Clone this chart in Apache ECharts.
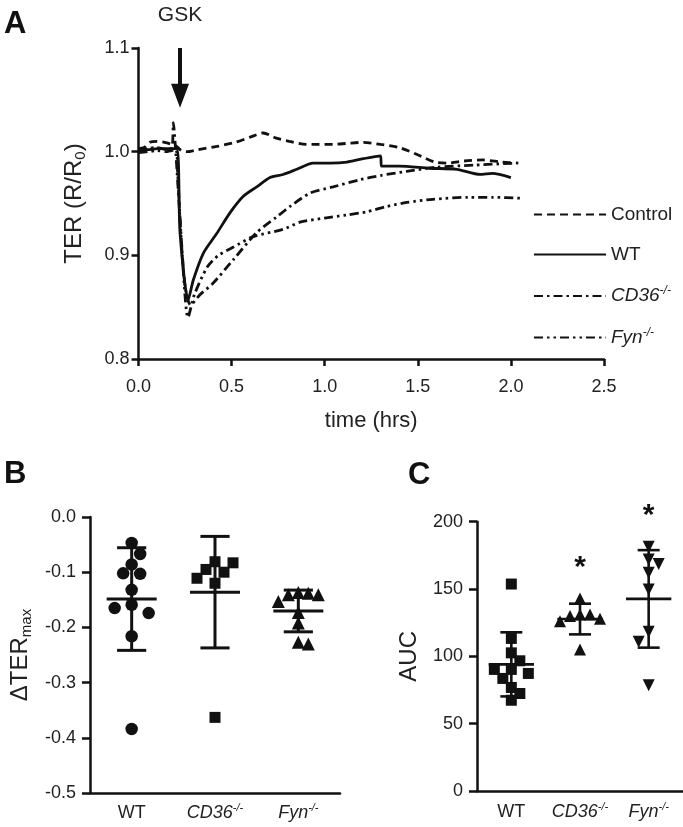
<!DOCTYPE html>
<html><head><meta charset="utf-8">
<script src="https://cdn.jsdelivr.net/npm/echarts/dist/echarts.min.js"></script>
<style>html,body{margin:0;padding:0;background:#fff}#c{width:683px;height:827px}</style>
</head><body><div id="c"></div>
<script>
// ---------- Panel A: TER time courses, [time (hrs), R/R0] ----------
const controlCurve = [[0.00,1.003],[0.03,1.004],[0.06,1.009],[0.10,1.010],[0.14,1.009],[0.18,1.007],[0.205,1.005],[0.23,1.001],[0.26,1.000],[0.32,1.002],[0.42,1.005],[0.52,1.009],[0.60,1.014],[0.67,1.018],[0.74,1.013],[0.81,1.010],[0.90,1.007],[0.97,1.007],[1.045,1.007],[1.12,1.008],[1.205,1.009],[1.30,1.007],[1.40,1.004],[1.50,0.997],[1.59,0.990],[1.66,0.989],[1.75,0.991],[1.85,0.992],[1.95,0.990],[2.04,0.989]];
const wtCurve = [[0.00,1.002],[0.05,1.002],[0.10,1.003],[0.15,1.003],[0.205,1.003],[0.223,0.922],[0.267,0.857],[0.294,0.876],[0.348,0.902],[0.42,0.921],[0.491,0.941],[0.563,0.957],[0.635,0.966],[0.706,0.975],[0.776,0.978],[0.85,0.983],[0.937,0.989],[1.03,0.989],[1.12,0.990],[1.20,0.993],[1.30,0.996],[1.305,0.986],[1.40,0.986],[1.565,0.984],[1.71,0.983],[1.834,0.978],[1.90,0.979],[2.00,0.975]];
const cd36Curve = [[0.00,1.000],[0.05,1.003],[0.10,1.004],[0.15,1.002],[0.18,1.004],[0.187,1.028],[0.20,1.000],[0.225,0.930],[0.25,0.870],[0.28,0.852],[0.33,0.862],[0.40,0.873],[0.51,0.896],[0.635,0.922],[0.742,0.937],[0.82,0.948],[0.921,0.960],[1.045,0.966],[1.19,0.973],[1.30,0.977],[1.44,0.981],[1.60,0.985],[1.80,0.987],[2.03,0.989]];
const fynCurve = [[0.00,0.999],[0.05,1.000],[0.10,1.001],[0.15,1.000],[0.20,1.002],[0.21,0.980],[0.235,0.900],[0.266,0.840],[0.30,0.862],[0.37,0.889],[0.43,0.900],[0.51,0.908],[0.615,0.918],[0.776,0.925],[0.867,0.932],[1.00,0.936],[1.12,0.939],[1.227,0.942],[1.33,0.947],[1.44,0.951],[1.58,0.954],[1.77,0.956],[1.90,0.956],[2.06,0.955]];
const gskTime = 0.223;
const xTicksA = [0, 2.5, 0.5];      // min, max, interval
const yTicksA = [0.8, 1.1, 0.1];

// ---------- Panel B: ΔTERmax ----------
const groupNames = ['WT', 'CD36', 'Fyn'];
const dTerWT = [-0.047,-0.067,-0.086,-0.103,-0.102,-0.132,-0.159,-0.165,-0.174,-0.216,-0.384];
const dTerCD36 = [-0.095,-0.083,-0.081,-0.100,-0.111,-0.120,-0.363];
const dTerFyn = [-0.138,-0.141,-0.141,-0.137,-0.153,-0.173,-0.192,-0.230,-0.227];
const yTicksB = [-0.5, 0, 0.1];

// ---------- Panel C: AUC ----------
const aucWT = [153.7,113.3,102.6,96.7,90.3,90.3,87.3,83.6,76.9,72.4,67.4];
const aucCD36 = [143,131,131,130,128,126,105];
const aucFyn = [181.4,168.6,172.0,162.1,149.7,118.2,110.8,78.6];
const yTicksC = [0, 200, 50];
const significantC = [false, true, true];

// ---------- helpers ----------
const FONT = '"Liberation Sans", Arial, Helvetica, sans-serif';
const INK = '#111';
const TXT = '#222';
function mean(a){return a.reduce((s,v)=>s+v,0)/a.length;}
function sd(a){const m=mean(a);return Math.sqrt(a.reduce((s,v)=>s+(v-m)*(v-m),0)/(a.length-1));}
const groupLabel = {WT:'{n|WT}', CD36:'{i|CD36}{s|-/-}', Fyn:'{i|Fyn}{s|-/-}'};
const richCat = {
  n:{fontSize:18,fontFamily:FONT,color:TXT,lineHeight:22},
  i:{fontSize:18,fontFamily:FONT,color:TXT,fontStyle:'italic',lineHeight:22},
  s:{fontSize:11,fontFamily:FONT,color:TXT,fontStyle:'italic',lineHeight:11,verticalAlign:'top'}
};
function axisBase(){
  return {
    axisLine:{show:true,onZero:false,lineStyle:{color:INK,width:2.5}},
    axisTick:{show:true,inside:false,length:7,lineStyle:{color:INK,width:2.5}},
    splitLine:{show:false},
    axisLabel:{color:TXT,fontSize:18,fontFamily:FONT}
  };
}

const dom = document.getElementById('c');
const chart = echarts.init(dom, null, {renderer:'canvas'});

const grids = [
  {left:138.5, top:48, width:465.5, height:311},
  {left:90, top:517, width:250, height:276},
  {left:477, top:521.7, width:206, height:269.3}
];

const xAxes = [
  Object.assign(axisBase(), {gridIndex:0, type:'value', min:xTicksA[0], max:xTicksA[1], interval:xTicksA[2],
    name:'time (hrs)', nameLocation:'middle', nameGap:51,
    nameTextStyle:{fontSize:22,fontFamily:FONT,color:TXT},
    axisLabel:{color:TXT,fontSize:18,fontFamily:FONT,margin:19,formatter:v=>v.toFixed(1)}}),
  Object.assign(axisBase(), {gridIndex:1, type:'category', data:groupNames, boundaryGap:true,
    axisTick:{show:false},
    axisLabel:{margin:9,interval:0,hideOverlap:false,formatter:v=>groupLabel[v],rich:richCat}}),
  Object.assign(axisBase(), {gridIndex:2, type:'category', data:groupNames, boundaryGap:true,
    axisTick:{show:false},
    axisLabel:{margin:10,interval:0,hideOverlap:false,formatter:v=>groupLabel[v],rich:richCat}})
];
const yAxes = [
  Object.assign(axisBase(), {gridIndex:0, type:'value', min:yTicksA[0], max:yTicksA[1], interval:yTicksA[2],
    name:'{n|TER (R/R}{b|0}{n|)}', nameLocation:'middle', nameGap:50,
    nameTextStyle:{fontSize:24,fontFamily:FONT,color:TXT,rich:{
      n:{fontSize:24,fontFamily:FONT,color:TXT,lineHeight:28},
      b:{fontSize:15,fontFamily:FONT,color:TXT,lineHeight:14,verticalAlign:'bottom'}}},
    axisLabel:{color:TXT,fontSize:18,fontFamily:FONT,margin:9,formatter:v=>v.toFixed(1)}}),
  Object.assign(axisBase(), {gridIndex:1, type:'value', min:yTicksB[0], max:yTicksB[1], interval:yTicksB[2],
    name:'{n|ΔTER}{b|max}', nameLocation:'middle', nameGap:56,
    nameTextStyle:{fontSize:24,fontFamily:FONT,color:TXT,rich:{
      n:{fontSize:24,fontFamily:FONT,color:TXT,lineHeight:28},
      b:{fontSize:15,fontFamily:FONT,color:TXT,lineHeight:14,verticalAlign:'bottom'}}},
    axisTick:{show:true,length:8,lineStyle:{color:INK,width:2.5}},
    axisLabel:{color:TXT,fontSize:18,fontFamily:FONT,margin:14,formatter:v=>v.toFixed(1)}}),
  Object.assign(axisBase(), {gridIndex:2, type:'value', min:yTicksC[0], max:yTicksC[1], interval:yTicksC[2],
    name:'AUC', nameLocation:'middle', nameGap:56,
    nameTextStyle:{fontSize:24,fontFamily:FONT,color:TXT},
    axisTick:{show:true,length:8,lineStyle:{color:INK,width:2.5}},
    axisLabel:{color:TXT,fontSize:18,fontFamily:FONT,margin:14}})
];

function lineSeries(name, data, type){
  return {name, type:'line', xAxisIndex:0, yAxisIndex:0, data, symbol:'none', showSymbol:false,
    smooth:0.25, animation:false,
    lineStyle:{color:INK, width:2.8, type:type, cap:'butt'},
    itemStyle:{color:INK}};
}
const aSeries = [
  lineSeries('Control', controlCurve, [8,5]),
  lineSeries('WT', wtCurve, 'solid'),
  lineSeries('CD36', cd36Curve, [9,4,2.5,4]),
  lineSeries('Fyn', fynCurve, [9,4,2.5,4,2.5,4])
];
aSeries[1].markLine = {
  silent:true, animation:false, symbol:['none','triangle'], symbolSize:[18,24],
  label:{show:false},
  lineStyle:{color:INK,width:4,type:'solid'},
  data:[[{coord:[gskTime, yTicksA[1]]},{coord:[gskTime, 1.054]}]]
};

function statsSeries(id, gi, groups, meanHalf, capHalf, width){
  const data = groups.map((g,i)=>[i, mean(g), sd(g)]);
  return {id, type:'custom', xAxisIndex:gi, yAxisIndex:gi, data, animation:false, z:3,
    renderItem:(params, api)=>{
      const x = api.value(0), m = api.value(1), s = api.value(2);
      const c = api.coord([x, m]), t = api.coord([x, m+s]), b = api.coord([x, m-s]);
      const bw = api.size([1,0])[0];
      const st = {stroke:INK, lineWidth:width, lineCap:'butt'};
      return {type:'group', children:[
        {type:'line', shape:{x1:c[0]-bw*meanHalf,y1:c[1],x2:c[0]+bw*meanHalf,y2:c[1]}, style:st},
        {type:'line', shape:{x1:c[0],y1:t[1],x2:c[0],y2:b[1]}, style:st},
        {type:'line', shape:{x1:c[0]-bw*capHalf,y1:t[1],x2:c[0]+bw*capHalf,y2:t[1]}, style:st},
        {type:'line', shape:{x1:c[0]-bw*capHalf,y1:b[1],x2:c[0]+bw*capHalf,y2:b[1]}, style:st}
      ]};
    }};
}

// marker style + swarm spacing (pixels) per group
const dotSpecs = [
  {id:'bWT', gi:1, cat:0, vals:dTerWT, symbol:'circle', size:12.5, rot:0, D:12, step:8.5},
  {id:'bCD36', gi:1, cat:1, vals:dTerCD36, symbol:'rect', size:11, rot:0, D:11, step:9},
  {id:'bFyn', gi:1, cat:2, vals:dTerFyn, symbol:'triangle', size:13, rot:0, D:10, step:10},
  {id:'cWT', gi:2, cat:0, vals:aucWT, symbol:'rect', size:11, rot:0, D:10, step:8.5},
  {id:'cCD36', gi:2, cat:1, vals:aucCD36, symbol:'triangle', size:12, rot:0, D:10, step:10},
  {id:'cFyn', gi:2, cat:2, vals:aucFyn, symbol:'triangle', size:12, rot:180, D:10, step:10}
];
function dotSeries(sp, offsets){
  return {id:sp.id, type:'scatter', xAxisIndex:sp.gi, yAxisIndex:sp.gi, animation:false, z:4,
    symbol:sp.symbol, symbolSize:sp.size, symbolRotate:sp.rot,
    itemStyle:{color:INK, opacity:1},
    data: sp.vals.map((v,i)=>({value:[sp.cat, v], symbolOffset:[offsets ? offsets[i] : 0, 0]}))};
}

const option = {
  backgroundColor:'#fff',
  animation:false,
  grid: grids,
  xAxis: xAxes,
  yAxis: yAxes,
  legend: {
    data:['Control','WT','CD36','Fyn'],
    orient:'vertical', left:528, top:200, itemWidth:72, itemHeight:12, itemGap:21,
    selectedMode:false,
    itemStyle:{color:'rgba(0,0,0,0)', borderWidth:0, opacity:0},
    formatter: n => n==='Control' ? '{n|Control}' : groupLabel[n],
    textStyle:{fontSize:19, fontFamily:FONT, color:TXT, rich:{
      n:{fontSize:19,fontFamily:FONT,color:TXT,lineHeight:22},
      i:{fontSize:19,fontFamily:FONT,color:TXT,fontStyle:'italic',lineHeight:22},
      s:{fontSize:12,fontFamily:FONT,color:TXT,fontStyle:'italic',lineHeight:12,verticalAlign:'top'}}}
  },
  series: [].concat(
    aSeries,
    [statsSeries('bStats', 1, [dTerWT,dTerCD36,dTerFyn], 0.30, 0.175, 3)],
    [statsSeries('cStats', 2, [aucWT,aucCD36,aucFyn], 0.33, 0.16, 2.6)],
    dotSpecs.map(sp=>dotSeries(sp, null))
  )
};
chart.setOption(option);

// beeswarm offsets (pixels) computed from the values' pixel positions
function swarm(pys, D, s){
  const order = pys.map((y,i)=>i).sort((a,b)=>pys[a]-pys[b]);
  const placed = []; const off = new Array(pys.length).fill(0);
  let side = 1;
  for (const i of order){
    for (let k=0;k<30;k++){
      const cands = k===0 ? [0] : [side*k*s, -side*k*s];
      let found = null;
      for (const dx of cands){
        if (placed.every(p=>Math.hypot(p.x-dx, p.y-pys[i]) >= D - 1e-6)){ found = dx; break; }
      }
      if (found !== null){
        off[i] = found; placed.push({x:found, y:pys[i]});
        if (found !== 0) side = -Math.sign(found);
        break;
      }
    }
  }
  return off;
}
const updated = dotSpecs.map(sp=>{
  const pys = sp.vals.map(v=>chart.convertToPixel({gridIndex:sp.gi}, [sp.cat, v])[1]);
  return dotSeries(sp, swarm(pys, sp.D, sp.step));
});

// annotations
const gskPx = chart.convertToPixel({gridIndex:0}, [gskTime, yTicksA[1]]);
const graphics = [
  {type:'text', left:4, top:9, style:{text:'A', font:'bold 31px '+FONT, fill:INK}},
  {type:'text', left:4, top:459, style:{text:'B', font:'bold 31px '+FONT, fill:INK}},
  {type:'text', left:408, top:460, style:{text:'C', font:'bold 31px '+FONT, fill:INK}},
  {type:'text', x:gskPx[0], y:gskPx[1]-33, style:{text:'GSK', font:'21px '+FONT, fill:TXT, align:'center', verticalAlign:'middle'}}
];
[aucWT,aucCD36,aucFyn].forEach((g,i)=>{
  if (!significantC[i]) return;
  const p = chart.convertToPixel({gridIndex:2}, [i, Math.max.apply(null,g)]);
  graphics.push({type:'text', x:p[0], y:p[1]-31, style:{text:'*', font:'bold 30px '+FONT, fill:INK, align:'center', verticalAlign:'middle'}});
});
chart.setOption({series: updated, graphic: graphics});
</script></body></html>
